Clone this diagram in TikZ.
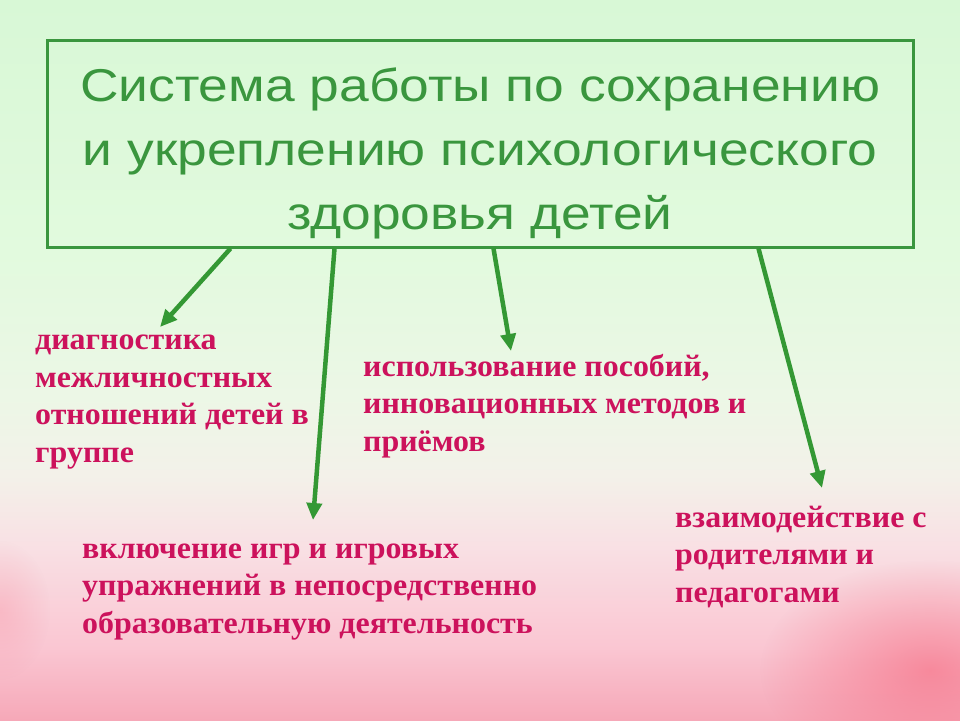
\documentclass[tikz,border=0pt]{standalone}
\usepackage{fontspec}
\setmainfont{Liberation Serif}
\newfontfamily\titlefont[FakeStretch=1.16]{Liberation Sans}
\newfontfamily\bodyfont[FakeStretch=1.03]{Liberation Serif}
\usetikzlibrary{arrows.meta,fadings}
\definecolor{tgreen}{RGB}{58,150,62}
\definecolor{agreen}{RGB}{52,152,52}
\definecolor{mag}{RGB}{204,18,92}
\definecolor{bgA}{RGB}{216,248,214}
\definecolor{bgB}{RGB}{226,250,222}
\definecolor{bgC}{RGB}{236,247,230}
\definecolor{bgD}{RGB}{243,241,233}
\definecolor{bgE}{RGB}{249,224,228}
\definecolor{bgF}{RGB}{250,198,210}
\definecolor{bgG}{RGB}{246,168,184}
\definecolor{blob}{RGB}{246,110,132}
\pgfdeclareverticalshading{slidebg}{100bp}{color(0bp)=(bgG); color(25bp)=(bgG); color(30bp)=(bgF); color(37bp)=(bgE); color(42bp)=(bgD); color(47.5bp)=(bgC); color(57.5bp)=(bgB); color(75bp)=(bgA); color(100bp)=(bgA)}
\tikzfading[name=softblob, inner color=transparent!35, outer color=transparent!100]
\tikzset{
  conn/.style={draw=agreen, line width=4.5pt, -{Triangle[length=17pt,width=15pt]}},
  itemtext/.style={anchor=base west, inner sep=0pt, align=left, text=mag, font=\bodyfont\bfseries\fontsize{31}{37.5}\selectfont},
  titlebox/.style={draw=tgreen, line width=3pt, minimum width=866pt, minimum height=207pt, inner sep=0pt},
}
\begin{document}
\begin{tikzpicture}[x=1pt,y=-1pt]
\useasboundingbox (0,0) rectangle (960,720);
\shade[shading=slidebg] (0,0) rectangle (960,720);
\fill[blob, path fading=softblob] (930,670) ellipse (170 and 110);
\fill[blob, path fading=softblob, opacity=0.35] (0,610) ellipse (50 and 70);
\node[titlebox] (title) at (480,143.5) {};
\node[anchor=base, inner sep=0pt, align=center, text=tgreen, font=\titlefont\fontsize{46}{64}\selectfont] (ttext) at (480,229)
  {Система работы по сохранению\\и укреплению психологического\\здоровья детей};
\node[itemtext] (diag) at (35,462) {диагностика\\межличностных\\отношений детей в\\группе};
\node[itemtext] (isp) at (363,451) {использование пособий,\\инновационных методов и\\приёмов};
\node[itemtext] (vkl) at (82,633) {включение игр и игровых\\упражнений в непосредственно\\образовательную деятельность};
\node[itemtext] (vz) at (675,602) {взаимодействие с\\родителями и\\педагогами};
\coordinate (e1) at (160,327);
\coordinate (e2) at (313,520);
\coordinate (e3) at (511,351);
\coordinate (e4) at (822,488);
\draw[conn] ([xshift=185pt]title.south west) -- (e1);
\draw[conn] ([xshift=289pt]title.south west) -- (e2);
\draw[conn] ([xshift=448pt]title.south west) -- (e3);
\draw[conn] ([xshift=713pt]title.south west) -- (e4);
\end{tikzpicture}
\end{document}
